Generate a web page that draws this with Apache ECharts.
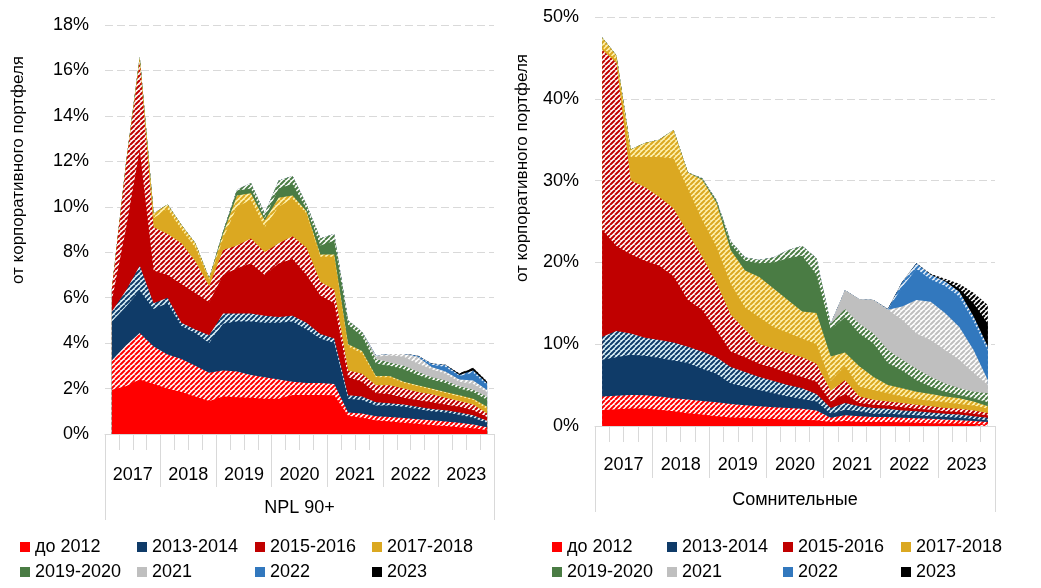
<!DOCTYPE html>
<html><head><meta charset="utf-8">
<script src="https://cdn.jsdelivr.net/npm/echarts@6/dist/echarts.min.js"></script>
<style>html,body{margin:0;padding:0;background:#fff}#c{width:1041px;height:588px}</style>
</head><body><div id="c"></div>
<script>
// Quarterly categories (2017 Q1 .. 2023 Q4)
const quarters = ['2017 I','2017 II','2017 III','2017 IV','2018 I','2018 II','2018 III','2018 IV',
  '2019 I','2019 II','2019 III','2019 IV','2020 I','2020 II','2020 III','2020 IV',
  '2021 I','2021 II','2021 III','2021 IV','2022 I','2022 II','2022 III','2022 IV',
  '2023 I','2023 II','2023 III','2023 IV'];
const years = ['2017','2018','2019','2020','2021','2022','2023'];
const groupLeft = ['NPL 90+'];
const groupRight = ['Сомнительные'];
const cohorts = ['до 2012','2013-2014','2015-2016','2017-2018','2019-2020','2021','2022','2023'];
const cohortColors = ['#FF0000','#0F3B68','#C00000','#DBA821','#4A7C44','#BFBFBF','#3278BE','#000000'];
const hatchBg = ['#FFFFFF','#DDF3FA','#FFFFFF','#FFF3B0','#FFFFFF','#FFFFFF','#E6F0FA','#FFFFFF'];
const yTitle = 'от корпоративного портфеля';

// Upper edge of each stacked layer (% of corporate portfolio).
// Layers bottom->top: cohort solid, cohort hatched, next cohort solid, ...
// NPL 90+ (left panel)
const npl_pre2012_s = [1.95,2.1,2.4,2.2,2.0,1.85,1.65,1.45,1.65,1.62,1.6,1.55,1.55,1.72,1.72,1.72,1.7,0.8,0.72,0.6,0.55,0.5,0.45,0.4,0.35,0.3,0.25,0.18];
const npl_pre2012_h = [3.25,3.9,4.45,3.85,3.5,3.3,3.0,2.7,2.8,2.75,2.6,2.5,2.4,2.3,2.25,2.25,2.2,0.95,0.9,0.78,0.75,0.7,0.65,0.6,0.55,0.5,0.42,0.3];
const npl_1314_s = [4.95,5.6,6.3,5.5,5.75,4.75,4.45,4.0,4.85,4.95,4.95,4.9,4.9,4.95,4.6,4.2,4.0,1.55,1.5,1.25,1.25,1.2,1.1,1.0,0.95,0.85,0.72,0.5];
const npl_1314_h = [5.4,6.3,7.4,5.75,6.0,4.9,4.6,4.35,5.3,5.3,5.3,5.2,5.15,5.2,4.9,4.4,4.2,1.7,1.65,1.4,1.35,1.3,1.2,1.1,1.05,0.95,0.82,0.58];
const npl_1516_s = [5.9,9.0,12.5,7.2,7.0,6.6,6.2,5.8,7.0,7.3,7.5,7.0,7.5,7.7,7.0,6.1,5.75,2.5,2.3,1.8,1.75,1.6,1.5,1.4,1.3,1.2,1.05,0.75];
const npl_1516_h = [6.4,11.8,16.4,9.1,8.8,8.4,7.6,6.5,8.1,8.3,8.6,8.0,8.4,8.7,8.2,6.7,6.35,2.8,2.65,2.15,2.15,2.0,1.85,1.75,1.6,1.45,1.3,0.9];
const npl_1718_s = [6.4,11.8,16.4,9.5,9.9,9.0,8.2,6.8,8.6,10.0,10.3,9.1,10.0,10.35,9.7,7.8,7.8,3.85,3.55,2.5,2.5,2.25,2.1,1.95,1.8,1.65,1.5,1.1];
const npl_1718_h = [6.4,11.85,16.6,9.7,10.1,9.2,8.4,6.85,8.8,10.5,10.6,9.4,10.4,10.5,9.8,7.9,7.9,3.95,3.65,2.55,2.55,2.3,2.15,2.0,1.85,1.7,1.55,1.2];
const npl_1920_s = [6.4,11.85,16.6,9.7,10.1,9.2,8.4,6.85,8.9,10.7,10.8,9.5,10.8,11.0,9.9,8.3,8.5,4.8,4.3,3.1,3.0,2.85,2.6,2.4,2.25,2.0,1.85,1.5];
const npl_1920_h = [6.4,11.85,16.6,9.7,10.1,9.2,8.4,6.85,8.9,10.75,11.05,9.7,11.15,11.35,10.1,8.6,8.8,5.0,4.5,3.3,3.15,3.0,2.75,2.5,2.35,2.1,1.95,1.64];
const npl_2021_s = [6.4,11.85,16.6,9.7,10.1,9.2,8.4,6.85,8.9,10.75,11.05,9.7,11.15,11.35,10.1,8.6,8.8,5.0,4.5,3.4,3.45,3.4,3.1,2.85,2.65,2.3,2.2,1.85];
const npl_2021_h = [6.4,11.85,16.6,9.7,10.1,9.2,8.4,6.85,8.9,10.75,11.05,9.7,11.15,11.35,10.1,8.6,8.8,5.0,4.5,3.45,3.52,3.52,3.4,2.95,2.75,2.4,2.35,1.94];
const npl_2022_s = [6.4,11.85,16.6,9.7,10.1,9.2,8.4,6.85,8.9,10.75,11.05,9.7,11.15,11.35,10.1,8.6,8.8,5.0,4.5,3.45,3.52,3.52,3.4,3.05,2.95,2.55,2.7,2.15];
const npl_2022_h = [6.4,11.85,16.6,9.7,10.1,9.2,8.4,6.85,8.9,10.75,11.05,9.7,11.15,11.35,10.1,8.6,8.8,5.0,4.5,3.45,3.52,3.52,3.45,3.1,3.05,2.6,2.8,2.23];
const npl_2023_s = [6.4,11.85,16.6,9.7,10.1,9.2,8.4,6.85,8.9,10.75,11.05,9.7,11.15,11.35,10.1,8.6,8.8,5.0,4.5,3.45,3.52,3.52,3.45,3.1,3.05,2.65,2.9,2.3];
const npl_2023_h = [6.4,11.85,16.6,9.7,10.1,9.2,8.4,6.85,8.9,10.75,11.05,9.7,11.15,11.35,10.1,8.6,8.8,5.0,4.5,3.45,3.52,3.52,3.45,3.1,3.05,2.67,2.92,2.32];

// Сомнительные (right panel)
const dbt_pre2012_s = [1.95,2.05,2.15,2.15,2.0,1.8,1.55,1.4,1.2,1.05,1.0,0.9,0.85,0.8,0.75,0.7,0.5,0.6,0.5,0.5,0.5,0.45,0.4,0.35,0.3,0.3,0.25,0.2];
const dbt_pre2012_h = [3.6,3.7,3.8,3.75,3.6,3.4,3.25,3.05,2.9,2.7,2.55,2.4,2.3,2.2,2.1,1.9,1.0,1.3,1.2,1.1,1.1,1.0,0.95,0.9,0.8,0.7,0.6,0.5];
const dbt_1314_s = [8.1,8.4,8.7,8.6,8.3,8.0,7.7,7.0,6.4,5.2,4.8,4.4,4.0,3.6,3.3,3.0,1.5,2.0,1.8,1.5,1.5,1.4,1.3,1.2,1.1,1.0,0.85,0.7];
const dbt_1314_h = [10.9,11.6,11.3,10.8,10.5,10.2,9.7,9.1,8.4,7.2,6.6,6.0,5.5,5.0,4.6,3.9,2.2,2.8,2.4,2.2,2.1,1.9,1.8,1.65,1.5,1.4,1.2,1.0];
const dbt_1516_s = [24.0,22.0,21.0,20.2,19.6,18.3,15.4,14.2,11.7,9.1,8.4,7.6,7.1,6.5,6.0,5.4,3.0,3.9,2.8,2.6,2.5,2.3,2.1,2.0,1.8,1.7,1.5,1.3];
const dbt_1516_h = [46.0,44.4,30.0,29.2,28.0,26.6,23.6,20.7,17.5,13.6,11.8,10.0,9.5,8.9,8.4,7.6,4.3,5.6,3.6,3.2,3.0,2.8,2.6,2.4,2.2,2.1,1.9,1.6];
const dbt_1718_s = [46.3,44.7,32.9,32.9,32.9,32.7,29.0,25.2,21.9,17.4,14.5,13.3,12.1,11.4,10.7,10.0,5.5,7.3,4.8,4.4,4.0,3.6,3.3,3.1,2.9,2.7,2.5,2.1];
const dbt_1718_h = [47.5,45.3,33.8,34.6,35.0,36.2,31.0,30.1,27.3,21.5,19.0,18.2,16.8,15.4,14.0,13.8,8.5,9.0,7.3,6.0,5.0,4.6,4.2,3.9,3.6,3.4,3.0,2.4];
const dbt_1920_s = [47.5,45.3,33.8,34.6,35.0,36.2,31.0,30.2,27.5,22.2,20.2,19.9,20.0,20.5,20.8,18.5,11.8,13.3,11.3,10.1,7.7,6.8,5.6,4.8,4.2,3.8,3.4,2.9];
const dbt_1920_h = [47.5,45.3,33.8,34.6,35.0,36.2,31.0,30.3,27.6,22.6,20.6,20.3,20.6,21.5,22.0,20.5,12.5,14.3,12.5,11.3,9.3,8.1,7.0,6.0,5.2,4.6,4.2,4.0];
const dbt_2021_s = [47.5,45.3,33.8,34.6,35.0,36.2,31.0,30.3,27.6,22.6,20.6,20.3,20.6,21.5,22.0,20.5,12.5,16.6,15.5,15.4,14.2,13.0,11.3,10.5,9.3,8.1,6.5,5.0];
const dbt_2021_h = [47.5,45.3,33.8,34.6,35.0,36.2,31.0,30.3,27.6,22.6,20.6,20.3,20.6,21.5,22.0,20.5,12.5,16.6,15.5,15.4,14.2,14.6,15.4,15.2,13.8,12.1,9.3,5.6];
const dbt_2022_s = [47.5,45.3,33.8,34.6,35.0,36.2,31.0,30.3,27.6,22.6,20.6,20.3,20.6,21.5,22.0,20.5,12.5,16.6,15.5,15.4,14.2,17.0,19.2,17.9,17.1,15.8,12.8,9.2];
const dbt_2022_h = [47.5,45.3,33.8,34.6,35.0,36.2,31.0,30.3,27.6,22.6,20.6,20.3,20.6,21.5,22.0,20.5,12.5,16.6,15.5,15.4,14.3,17.6,19.9,18.5,17.7,16.4,13.4,9.7];
const dbt_2023_s = [47.5,45.3,33.8,34.6,35.0,36.2,31.0,30.3,27.6,22.6,20.6,20.3,20.6,21.5,22.0,20.5,12.5,16.6,15.5,15.4,14.3,17.6,19.9,18.5,17.8,16.8,15.0,12.5];
const dbt_2023_h = [47.5,45.3,33.8,34.6,35.0,36.2,31.0,30.3,27.6,22.6,20.6,20.3,20.6,21.5,22.0,20.5,12.5,16.6,15.5,15.4,14.3,17.6,19.9,18.6,18.0,17.4,16.3,14.8];

const nplLayers = [npl_pre2012_s,npl_pre2012_h,npl_1314_s,npl_1314_h,npl_1516_s,npl_1516_h,npl_1718_s,npl_1718_h,
  npl_1920_s,npl_1920_h,npl_2021_s,npl_2021_h,npl_2022_s,npl_2022_h,npl_2023_s,npl_2023_h];
const dbtLayers = [dbt_pre2012_s,dbt_pre2012_h,dbt_1314_s,dbt_1314_h,dbt_1516_s,dbt_1516_h,dbt_1718_s,dbt_1718_h,
  dbt_1920_s,dbt_1920_h,dbt_2021_s,dbt_2021_h,dbt_2022_s,dbt_2022_h,dbt_2023_s,dbt_2023_h];

const FONT = "'Liberation Sans', Arial, sans-serif";

function hatch(fg, bg) {
  const s = 5, c = document.createElement('canvas');
  c.width = s; c.height = s;
  const x = c.getContext('2d');
  x.fillStyle = bg; x.fillRect(0, 0, s, s);
  x.strokeStyle = fg; x.lineWidth = 2; x.beginPath();
  [-1, 0, 1].forEach(k => { x.moveTo(k * s, s); x.lineTo(k * s + s, 0); });
  x.stroke();
  return { image: c, repeat: 'repeat' };
}
const patterns = cohortColors.map((c, i) => hatch(c, hatchBg[i]));

function buildSeries(layers, xIdx, yIdx) {
  const out = [];
  // draw from the top-most boundary downward so lower layers cover upper areas
  for (let k = layers.length - 1; k >= 0; k--) {
    const c = Math.floor(k / 2), hatched = k % 2 === 1;
    out.push({
      type: 'line', name: hatched ? cohorts[c] + ' (штриховка)' : cohorts[c],
      xAxisIndex: xIdx, yAxisIndex: yIdx, data: layers[k],
      symbol: 'none', smooth: false, silent: true,
      lineStyle: { width: 0, opacity: 0 },
      itemStyle: { color: cohortColors[c] },
      areaStyle: { color: hatched ? patterns[c] : cohortColors[c], opacity: 1 },
      emphasis: { disabled: true }
    });
  }
  return out;
}

function xAxes(grid, groupData, yrMargin, yrTick, grpMargin, grpTick) {
  const common = { type: 'category', gridIndex: grid, position: 'bottom', offset: 0, boundaryGap: true, splitLine: { show: false } };
  return [
    Object.assign({}, common, { data: quarters,
      axisLine: { show: true, lineStyle: { color: '#D9D9D9', width: 1 } },
      axisTick: { show: true, interval: 0, length: 16, lineStyle: { color: '#D9D9D9' } },
      axisLabel: { show: false } }),
    Object.assign({}, common, { data: years,
      axisLine: { show: false },
      axisTick: { show: true, interval: 0, length: yrTick, lineStyle: { color: '#D9D9D9' } },
      axisLabel: { interval: 0, margin: yrMargin, fontSize: 18, color: '#000', fontFamily: FONT } }),
    Object.assign({}, common, { data: groupData,
      axisLine: { show: false },
      axisTick: { show: true, interval: 0, length: grpTick, lineStyle: { color: '#D9D9D9' } },
      axisLabel: { interval: 0, margin: grpMargin, fontSize: 18, color: '#000', fontFamily: FONT } })
  ];
}

function yAxis(grid, max, interval) {
  return { type: 'value', gridIndex: grid, min: 0, max: max, interval: interval,
    axisLine: { show: false }, axisTick: { show: false },
    axisLabel: { formatter: '{value}%', fontSize: 18, color: '#000', fontFamily: FONT, margin: 16 },
    splitLine: { show: true, lineStyle: { color: '#D9D9D9', type: [8, 4], width: 1 } } };
}

function legendCol(left, items) {
  return { left: left, top: 538, orient: 'vertical', itemGap: 7, itemWidth: 10, itemHeight: 10,
    icon: 'rect', padding: 0, selectedMode: false, data: items,
    textStyle: { fontSize: 18, color: '#000', fontFamily: FONT } };
}

const chart = echarts.init(document.getElementById('c'), null, { renderer: 'canvas' });
chart.setOption({
  animation: false,
  backgroundColor: '#fff',
  grid: [
    { left: 105, top: 25, width: 389, height: 409, containLabel: false },
    { left: 595, top: 17, width: 400, height: 409, containLabel: false }
  ],
  xAxis: [].concat(xAxes(0, groupLeft, 32, 53, 65, 86), xAxes(1, groupRight, 30, 52, 65, 86)),
  yAxis: [yAxis(0, 18, 2), yAxis(1, 50, 10)],
  legend: [
    legendCol(20, [cohorts[0], cohorts[4]]), legendCol(137, [cohorts[1], cohorts[5]]),
    legendCol(255, [cohorts[2], cohorts[6]]), legendCol(372, [cohorts[3], cohorts[7]]),
    legendCol(552, [cohorts[0], cohorts[4]]), legendCol(667, [cohorts[1], cohorts[5]]),
    legendCol(783, [cohorts[2], cohorts[6]]), legendCol(901, [cohorts[3], cohorts[7]])
  ],
  graphic: [
    { type: 'text', x: 18, y: 170, rotation: Math.PI / 2,
      style: { text: yTitle, font: "17px 'Liberation Sans', Arial, sans-serif", fill: '#000', textAlign: 'center', textVerticalAlign: 'middle' } },
    { type: 'text', x: 522, y: 168, rotation: Math.PI / 2,
      style: { text: yTitle, font: "17px 'Liberation Sans', Arial, sans-serif", fill: '#000', textAlign: 'center', textVerticalAlign: 'middle' } }
  ],
  series: [].concat(buildSeries(nplLayers, 0, 0), buildSeries(dbtLayers, 3, 1))
});
</script></body></html>
